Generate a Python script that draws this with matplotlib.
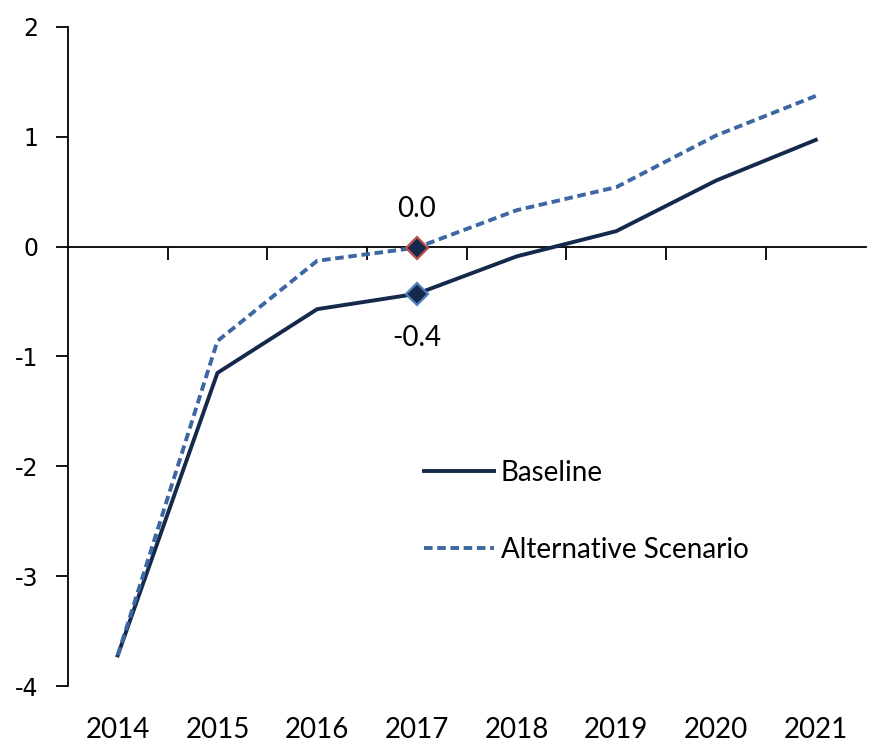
import matplotlib.pyplot as plt
from matplotlib.ticker import FixedLocator, NullLocator

years = ["2014", "2015", "2016", "2017", "2018", "2019", "2020", "2021"]
baseline = [-3.72, -1.15, -0.57, -0.43, -0.09, 0.14, 0.60, 0.97]
alternative = [-3.72, -0.86, -0.13, -0.01, 0.33, 0.54, 1.01, 1.37]
highlight_year = "2017"

navy = "#14294b"
blue = "#3d67a3"

plt.rcParams["font.family"] = ["Lato", "DejaVu Sans"]

fig = plt.figure(figsize=(8.7, 7.41), dpi=100)
ax = fig.add_axes([0.078, 0.074, 0.917, 0.89])

x = list(range(len(years)))
ax.plot(x, baseline, color=navy, lw=2.8, label="Baseline", zorder=3)
ax.plot(x, alternative, color=blue, lw=2.8, ls=(0, (2.2, 1.2)),
        label="Alternative Scenario", zorder=3)

# highlighted points with value labels
i = years.index(highlight_year)
ax.plot(i, alternative[i], marker="D", ms=11, mfc=navy, mec="#c0504d",
        mew=1.6, zorder=4)
ax.plot(i, baseline[i], marker="D", ms=11, mfc=navy, mec="#4f81bd",
        mew=1.6, zorder=4)
ax.annotate(f"{alternative[i]:.1f}".replace("-0.0", "0.0"), (i, alternative[i]),
            xytext=(0, 28), textcoords="offset points", ha="center",
            va="center", fontsize=20)
ax.annotate(f"{baseline[i]:.1f}", (i, baseline[i]), xytext=(0, -32),
            textcoords="offset points", ha="center", va="center", fontsize=20)

ax.set_xlim(-0.5, len(years) - 0.5)
ax.set_ylim(-4, 2)

# axis line through zero with category boundary ticks
ax.spines["bottom"].set_position(("data", 0))
ax.spines["top"].set_visible(False)
ax.spines["right"].set_visible(False)
ax.spines["left"].set_linewidth(1.3)
ax.spines["bottom"].set_linewidth(1.3)
ax.xaxis.set_major_locator(NullLocator())
ax.xaxis.set_minor_locator(FixedLocator([k + 0.5 for k in x[:-1]]))
ax.tick_params(axis="x", which="minor", direction="out", length=9, width=1.3)

ax.set_yticks(range(-4, 3))
ax.set_yticklabels([str(v) for v in range(-4, 3)], family="DejaVu Sans",
                   fontsize=17)
ax.tick_params(axis="y", direction="out", length=9, width=1.3, pad=12)

# year labels along the bottom of the plot area
sec = ax.secondary_xaxis("bottom")
sec.spines["bottom"].set_visible(False)
sec.set_xticks(x)
sec.set_xticklabels(years, fontsize=20)
sec.tick_params(length=0, pad=22)

ax.legend(loc="center left", bbox_to_anchor=(0.447, 0.265), frameon=False,
          fontsize=20, handlelength=2.5, handletextpad=0.25, labelspacing=1.85,
          borderaxespad=0, borderpad=0)

fig.savefig("out.png", dpi=100)
